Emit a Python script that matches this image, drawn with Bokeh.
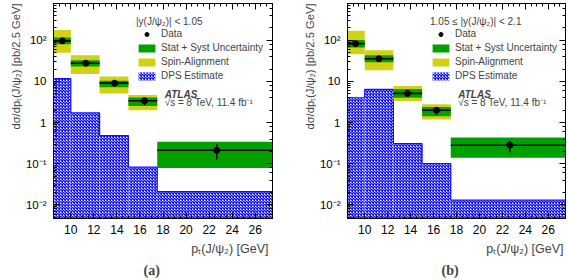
import numpy as np
from bokeh.plotting import figure
from bokeh.models import (Range1d, LinearAxis, LogAxis, Title, Legend, LegendItem, Label,
                          CustomJSTickFormatter, SingleIntervalTicker, LogTicker)
from bokeh.layouts import row
from bokeh.embed import file_html
from bokeh.resources import INLINE

# ---------------- data ----------------
bin_edges = [8.5, 10.0, 12.5, 15.0, 17.5, 27.5]

# panel (a): |y| < 1.05
a_x = [9.27, 11.3, 13.8, 16.4, 22.66]
a_y = [97.0, 27.8, 9.1, 3.4, 0.213]
a_stat_lo = [86.0, 24.5, 7.8, 2.7, 0.128]
a_stat_hi = [110.0, 31.5, 10.0, 3.9, 0.30]
a_tot_lo = [80.6, 23.1, 7.2, 2.55, 0.0796]
a_tot_hi = [117.0, 33.0, 10.4, 4.1, 0.343]
a_spin_lo = [50.0, 15.1, 5.14, 2.0]
a_spin_hi = [178.6, 43.1, 13.3, 4.7]
a_dps = [11.7, 1.72, 0.483, 0.083, 0.0212]

# panel (b): 1.05 <= |y| < 2.1
b_x = [9.2, 11.23, 13.73, 16.26, 22.65]
b_y = [83.0, 35.5, 5.14, 2.0, 0.283]
b_stat_lo = [70.0, 31.0, 4.2, 1.55, 0.19]
b_stat_hi = [97.0, 40.0, 6.3, 2.35, 0.36]
b_tot_lo = [66.4, 29.4, 4.0, 1.43, 0.141]
b_tot_hi = [101.0, 43.1, 6.6, 2.4, 0.438]
b_spin_lo = [45.6, 18.7, 3.34, 1.2]
b_spin_hi = [171.6, 57.3, 7.8, 2.8]
b_dps = [4.03, 6.45, 0.312, 0.1016, 0.0131]

x_range = (8.5, 27.5)
y_range = (0.0047, 783.0)

FONT = "Liberation Sans"
GREEN = "#00a000"
YELLOW = "#d2d214"
BLUE = "#1010ff"

y_fmt_code = """
const e = Math.round(Math.log10(tick));
const m = {"-2": "10\u207b\u00b2", "-1": "10\u207b\u00b9", "0": "1", "1": "10", "2": "10\u00b2"};
const k = String(e);
return (k in m) ? m[k] : "";
"""


def make_panel(width, border_left, border_right, xs, ys, slo, shi, tlo, thi,
               splo, sphi, dps, header, tag, tag_offset, xtitle_offset):
    p = figure(width=width, height=280, x_range=Range1d(*x_range),
               y_range=Range1d(*y_range), y_axis_type="log",
               output_backend="svg", toolbar_location=None,
               min_border_left=border_left, min_border_right=border_right,
               min_border_top=3, min_border_bottom=5)
    p.xgrid.visible = False
    p.ygrid.visible = False
    p.outline_line_color = "black"
    p.outline_line_width = 1

    edges = np.array(bin_edges)
    lefts = edges[:-1]
    rights = edges[1:]
    nsp = len(splo)

    # DPS estimate (hatched histogram)
    dps_r = p.quad(left=lefts, right=rights, bottom=y_range[0], top=dps,
                   fill_color="#f4f4ff", line_color=None,
                   hatch_pattern="diagonal_cross", hatch_color=BLUE,
                   hatch_scale=3, hatch_weight=1.5)
    sx = np.repeat(edges, 2)[1:-1]
    sy = np.repeat(np.array(dps), 2)
    p.line(sx, sy, line_color=BLUE, line_width=1.2)

    # spin alignment band
    spin_r = p.quad(left=lefts[:nsp], right=rights[:nsp], bottom=splo, top=sphi,
                    fill_color=YELLOW, line_color=None)
    # stat + syst band
    tot_r = p.quad(left=lefts, right=rights, bottom=tlo, top=thi,
                   fill_color=GREEN, line_color=None)
    # horizontal bin-width bars
    p.segment(x0=lefts, x1=rights, y0=ys, y1=ys, line_color="black", line_width=1.6)
    # vertical error bars
    p.segment(x0=xs, x1=xs, y0=slo, y1=shi, line_color="black", line_width=1.4)
    data_r = p.scatter(xs, ys, size=6, marker="circle", fill_color="black",
                       line_color="black")

    # axes styling
    p.xaxis.ticker = SingleIntervalTicker(interval=2, num_minor_ticks=4)
    for ax in p.xaxis + p.yaxis:
        ax.major_tick_in = 6
        ax.major_tick_out = 0
        ax.minor_tick_in = 3
        ax.minor_tick_out = 0
        ax.axis_line_color = "black"
        ax.major_label_text_font = FONT
        ax.major_label_text_color = "black"
    p.xaxis.major_label_text_font_size = "12px"
    p.xaxis.major_label_standoff = 6
    p.yaxis.major_label_text_font_size = "11.5px"
    p.yaxis.major_label_standoff = 7
    p.yaxis.formatter = CustomJSTickFormatter(code=y_fmt_code)

    top_ax = LinearAxis(ticker=SingleIntervalTicker(interval=2, num_minor_ticks=4),
                        major_tick_in=6, major_tick_out=0, minor_tick_in=3,
                        minor_tick_out=0, formatter=CustomJSTickFormatter(code="return '';"),
                        major_label_standoff=0, axis_line_color="black")
    right_ax = LogAxis(ticker=LogTicker(), major_tick_in=6, major_tick_out=0,
                       minor_tick_in=3, minor_tick_out=0,
                       formatter=CustomJSTickFormatter(code="return '';"),
                       major_label_standoff=0, axis_line_color="black")
    p.add_layout(top_ax, "above")
    p.add_layout(right_ax, "right")

    # titles outside the frame
    p.add_layout(Title(text="d\u03c3/dp\u209c(J/\u03c8\u2082) [pb/2.5 GeV]", align="right",
                       text_font=FONT, text_font_size="11.2px", text_font_style="normal",
                       standoff=2), "left")
    p.add_layout(Title(text="p\u209c(J/\u03c8\u2082) [GeV]", align="right",
                       text_font=FONT, text_font_size="12.5px", text_font_style="normal",
                       offset=xtitle_offset, standoff=6), "below")
    p.add_layout(Title(text=tag, align="left", offset=tag_offset,
                       text_font="Liberation Serif", text_font_size="14px",
                       text_font_style="bold", standoff=5), "below")

    # legend
    legend = Legend(items=[LegendItem(label="Data", renderers=[data_r]),
                           LegendItem(label="Stat + Syst Uncertainty", renderers=[tot_r]),
                           LegendItem(label="Spin-Alignment", renderers=[spin_r]),
                           LegendItem(label="DPS Estimate", renderers=[dps_r])],
                    title=header, location=(83, 137),
                    background_fill_alpha=0, border_line_color=None,
                    label_text_font=FONT, label_text_font_size="10px",
                    title_text_font=FONT, title_text_font_size="10px",
                    title_text_font_style="normal", title_standoff=1,
                    glyph_width=21, glyph_height=10, label_height=10,
                    label_standoff=4, spacing=3, padding=0, margin=0)
    p.add_layout(legend, "center")

    p.add_layout(Label(x=18.15, y=4.9, text="ATLAS", text_font=FONT,
                       text_font_style="bold italic", text_font_size="10px",
                       text_baseline="middle"))
    p.add_layout(Label(x=18.15, y=3.15, text="\u221as = 8 TeV, 11.4 fb\u207b\u00b9",
                       text_font=FONT, text_font_size="10px", text_baseline="middle"))
    return p


pa = make_panel(284, 53, 12, a_x, a_y, a_stat_lo, a_stat_hi, a_tot_lo, a_tot_hi,
                a_spin_lo, a_spin_hi, a_dps, "|y(J/\u03c8\u2082)| < 1.05", "(a)", 90, 4)
pb = make_panel(284, 63, 3, b_x, b_y, b_stat_lo, b_stat_hi, b_tot_lo, b_tot_hi,
                b_spin_lo, b_spin_hi, b_dps, "1.05 \u2264 |y(J/\u03c8\u2082)| < 2.1", "(b)", 94, 2)

layout = row(pa, pb)
open("out.html", "w").write(file_html(layout, INLINE))
